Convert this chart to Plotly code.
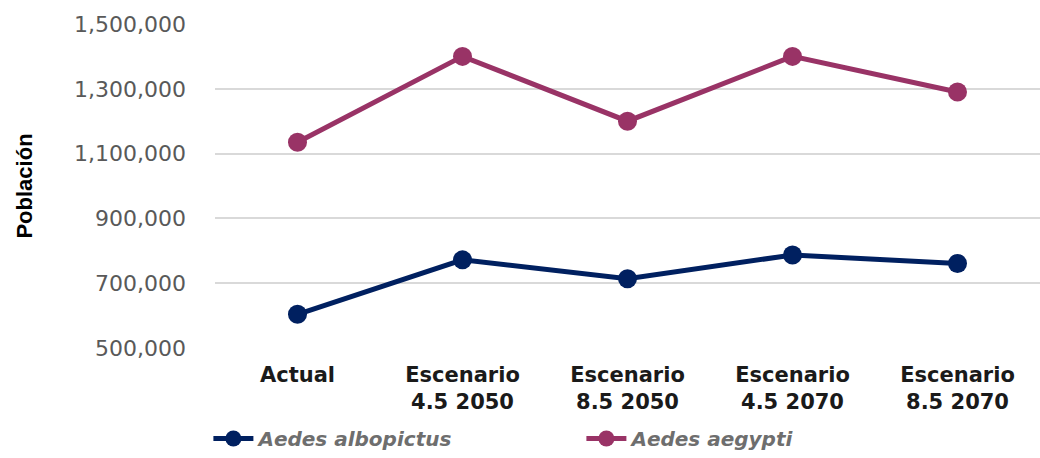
import plotly.graph_objects as go

categories = ["Actual", "Escenario<br>4.5 2050", "Escenario<br>8.5 2050",
              "Escenario<br>4.5 2070", "Escenario<br>8.5 2070"]
albopictus = [604000, 772000, 714000, 787000, 761000]
aegypti = [1135000, 1400000, 1200000, 1400000, 1290000]
y_ticks = [500000, 700000, 900000, 1100000, 1300000, 1500000]

WIDE = "DejaVu Sans, Verdana, sans-serif"
ARIAL = "Liberation Sans, Arial, sans-serif"

fig = go.Figure()
fig.add_trace(go.Scatter(
    x=categories, y=albopictus, mode="lines+markers", name="Aedes albopictus",
    line=dict(color="#002060", width=5), marker=dict(size=19, color="#002060")))
fig.add_trace(go.Scatter(
    x=categories, y=aegypti, mode="lines+markers", name="Aedes aegypti",
    line=dict(color="#993366", width=5), marker=dict(size=19, color="#993366")))

fig.update_layout(
    width=1040, height=458,
    margin=dict(l=215, r=0, t=24, b=109),
    paper_bgcolor="white", plot_bgcolor="white",
    font=dict(family=WIDE),
    showlegend=True,
    legend=dict(orientation="h", x=-0.008, xanchor="left", y=-0.28, yanchor="middle",
                font=dict(family=WIDE, size=20, color="#6e6e6e", style="italic", weight="bold"),
                itemwidth=40, traceorder="normal", entrywidth=318, entrywidthmode="pixels"),
    xaxis=dict(type="category", range=[-0.5, 4.5], showgrid=False, showline=False,
               zeroline=False, ticks="",
               tickfont=dict(family=WIDE, size=21, color="#1a1a1a", weight="bold"),
               ticklabelstandoff=12),
    yaxis=dict(range=[500000, 1500000], tickvals=y_ticks, tickformat=",d",
               showgrid=True, gridcolor="#d9d9d9", gridwidth=1.5,
               zeroline=False, showline=False, ticks="",
               tickfont=dict(family=WIDE, size=22, color="#595959"),
               ticklabelstandoff=28,
               title=dict(text="Población", standoff=35,
                          font=dict(family=ARIAL, size=22, color="#000000", weight="bold"))),
)

fig.write_html("out.html")
